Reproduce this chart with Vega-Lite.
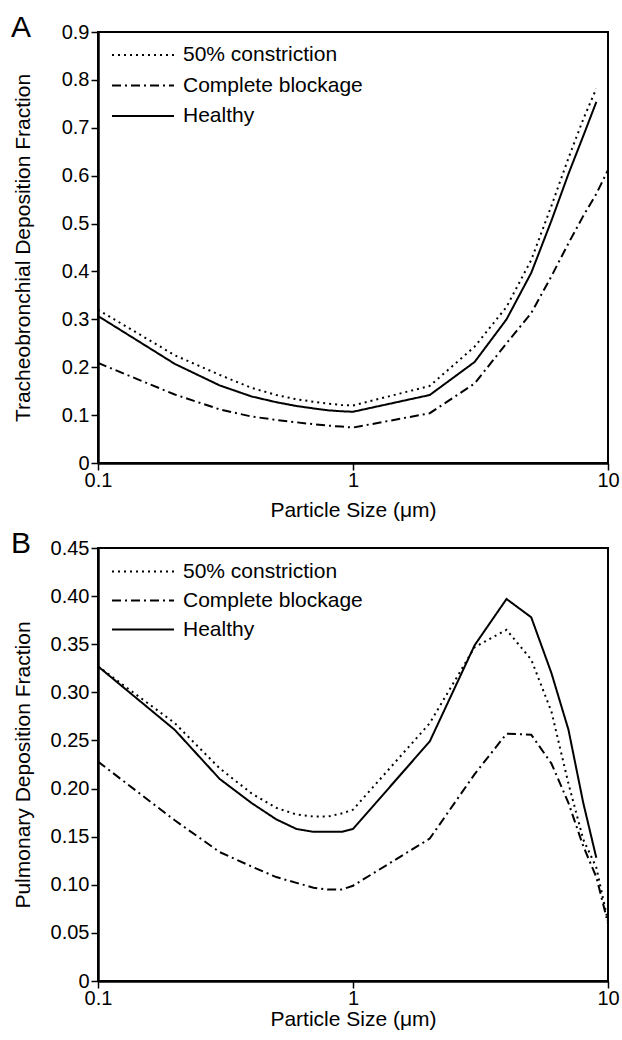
{
  "$schema": "https://vega.github.io/schema/vega-lite/v6.json",
  "background": "white",
  "padding": {"left": 10, "top": 12, "right": 12, "bottom": 2},
  "spacing": 7,
  "config": {
    "font": "Liberation Sans",
    "view": {"stroke": "black", "strokeWidth": 2},
    "axis": {
      "grid": false, "domainColor": "black", "domainWidth": 2.5,
      "tickColor": "black", "tickWidth": 1.5, "tickSize": 7,
      "labelColor": "black", "labelFontSize": 20, "labelFont": "Liberation Sans",
      "titleColor": "black", "titleFontSize": 21, "titleFontWeight": "normal", "titleFont": "Liberation Sans"
    },
    "title": {"fontSize": 30, "fontWeight": "normal", "anchor": "start", "color": "black", "font": "Liberation Sans"}
  },
  "datasets": {
    "tb": [
      {"size": 0.1, "series": "Healthy", "value": 0.307},
      {"size": 0.2, "series": "Healthy", "value": 0.207},
      {"size": 0.3, "series": "Healthy", "value": 0.162},
      {"size": 0.4, "series": "Healthy", "value": 0.139},
      {"size": 0.5, "series": "Healthy", "value": 0.127},
      {"size": 0.6, "series": "Healthy", "value": 0.119},
      {"size": 0.7, "series": "Healthy", "value": 0.114},
      {"size": 0.8, "series": "Healthy", "value": 0.110},
      {"size": 0.9, "series": "Healthy", "value": 0.108},
      {"size": 1, "series": "Healthy", "value": 0.107},
      {"size": 2, "series": "Healthy", "value": 0.142},
      {"size": 3, "series": "Healthy", "value": 0.211},
      {"size": 4, "series": "Healthy", "value": 0.300},
      {"size": 5, "series": "Healthy", "value": 0.397},
      {"size": 6, "series": "Healthy", "value": 0.506},
      {"size": 7, "series": "Healthy", "value": 0.604},
      {"size": 8, "series": "Healthy", "value": 0.683},
      {"size": 9, "series": "Healthy", "value": 0.754},
      {"size": 0.1, "series": "50% constriction", "value": 0.320},
      {"size": 0.2, "series": "50% constriction", "value": 0.225},
      {"size": 0.3, "series": "50% constriction", "value": 0.184},
      {"size": 0.4, "series": "50% constriction", "value": 0.157},
      {"size": 0.5, "series": "50% constriction", "value": 0.142},
      {"size": 0.6, "series": "50% constriction", "value": 0.133},
      {"size": 0.7, "series": "50% constriction", "value": 0.128},
      {"size": 0.8, "series": "50% constriction", "value": 0.124},
      {"size": 0.9, "series": "50% constriction", "value": 0.121},
      {"size": 1, "series": "50% constriction", "value": 0.120},
      {"size": 2, "series": "50% constriction", "value": 0.161},
      {"size": 3, "series": "50% constriction", "value": 0.243},
      {"size": 4, "series": "50% constriction", "value": 0.326},
      {"size": 5, "series": "50% constriction", "value": 0.424},
      {"size": 6, "series": "50% constriction", "value": 0.537},
      {"size": 7, "series": "50% constriction", "value": 0.637},
      {"size": 8, "series": "50% constriction", "value": 0.718},
      {"size": 9, "series": "50% constriction", "value": 0.782},
      {"size": 0.1, "series": "Complete blockage", "value": 0.209},
      {"size": 0.2, "series": "Complete blockage", "value": 0.143},
      {"size": 0.3, "series": "Complete blockage", "value": 0.112},
      {"size": 0.4, "series": "Complete blockage", "value": 0.097},
      {"size": 0.5, "series": "Complete blockage", "value": 0.090},
      {"size": 0.6, "series": "Complete blockage", "value": 0.085},
      {"size": 0.7, "series": "Complete blockage", "value": 0.081},
      {"size": 0.8, "series": "Complete blockage", "value": 0.078},
      {"size": 0.9, "series": "Complete blockage", "value": 0.076},
      {"size": 1, "series": "Complete blockage", "value": 0.074},
      {"size": 2, "series": "Complete blockage", "value": 0.104},
      {"size": 3, "series": "Complete blockage", "value": 0.166},
      {"size": 4, "series": "Complete blockage", "value": 0.250},
      {"size": 5, "series": "Complete blockage", "value": 0.313},
      {"size": 6, "series": "Complete blockage", "value": 0.390},
      {"size": 7, "series": "Complete blockage", "value": 0.459},
      {"size": 8, "series": "Complete blockage", "value": 0.516},
      {"size": 9, "series": "Complete blockage", "value": 0.562},
      {"size": 10, "series": "Complete blockage", "value": 0.612}
    ],
    "pul": [
      {"size": 0.1, "series": "Healthy", "value": 0.327},
      {"size": 0.2, "series": "Healthy", "value": 0.261},
      {"size": 0.3, "series": "Healthy", "value": 0.210},
      {"size": 0.4, "series": "Healthy", "value": 0.185},
      {"size": 0.5, "series": "Healthy", "value": 0.168},
      {"size": 0.6, "series": "Healthy", "value": 0.158},
      {"size": 0.7, "series": "Healthy", "value": 0.155},
      {"size": 0.8, "series": "Healthy", "value": 0.155},
      {"size": 0.9, "series": "Healthy", "value": 0.155},
      {"size": 1, "series": "Healthy", "value": 0.158},
      {"size": 2, "series": "Healthy", "value": 0.249},
      {"size": 3, "series": "Healthy", "value": 0.349},
      {"size": 4, "series": "Healthy", "value": 0.397},
      {"size": 5, "series": "Healthy", "value": 0.378},
      {"size": 6, "series": "Healthy", "value": 0.320},
      {"size": 7, "series": "Healthy", "value": 0.261},
      {"size": 8, "series": "Healthy", "value": 0.185},
      {"size": 9, "series": "Healthy", "value": 0.128},
      {"size": 0.1, "series": "50% constriction", "value": 0.327},
      {"size": 0.2, "series": "50% constriction", "value": 0.268},
      {"size": 0.3, "series": "50% constriction", "value": 0.221},
      {"size": 0.4, "series": "50% constriction", "value": 0.195},
      {"size": 0.5, "series": "50% constriction", "value": 0.180},
      {"size": 0.6, "series": "50% constriction", "value": 0.173},
      {"size": 0.7, "series": "50% constriction", "value": 0.171},
      {"size": 0.8, "series": "50% constriction", "value": 0.171},
      {"size": 0.9, "series": "50% constriction", "value": 0.174},
      {"size": 1, "series": "50% constriction", "value": 0.178},
      {"size": 2, "series": "50% constriction", "value": 0.268},
      {"size": 3, "series": "50% constriction", "value": 0.347},
      {"size": 4, "series": "50% constriction", "value": 0.365},
      {"size": 5, "series": "50% constriction", "value": 0.334},
      {"size": 6, "series": "50% constriction", "value": 0.280},
      {"size": 7, "series": "50% constriction", "value": 0.205},
      {"size": 8, "series": "50% constriction", "value": 0.147},
      {"size": 9, "series": "50% constriction", "value": 0.118},
      {"size": 10, "series": "50% constriction", "value": 0.062},
      {"size": 0.1, "series": "Complete blockage", "value": 0.228},
      {"size": 0.2, "series": "Complete blockage", "value": 0.167},
      {"size": 0.3, "series": "Complete blockage", "value": 0.134},
      {"size": 0.4, "series": "Complete blockage", "value": 0.119},
      {"size": 0.5, "series": "Complete blockage", "value": 0.108},
      {"size": 0.6, "series": "Complete blockage", "value": 0.102},
      {"size": 0.7, "series": "Complete blockage", "value": 0.097},
      {"size": 0.8, "series": "Complete blockage", "value": 0.095},
      {"size": 0.9, "series": "Complete blockage", "value": 0.095},
      {"size": 1, "series": "Complete blockage", "value": 0.099},
      {"size": 2, "series": "Complete blockage", "value": 0.148},
      {"size": 3, "series": "Complete blockage", "value": 0.215},
      {"size": 4, "series": "Complete blockage", "value": 0.257},
      {"size": 5, "series": "Complete blockage", "value": 0.256},
      {"size": 6, "series": "Complete blockage", "value": 0.226},
      {"size": 7, "series": "Complete blockage", "value": 0.185},
      {"size": 8, "series": "Complete blockage", "value": 0.140},
      {"size": 9, "series": "Complete blockage", "value": 0.108},
      {"size": 10, "series": "Complete blockage", "value": 0.060}
    ]
  },
  "vconcat": [
    {
      "title": {"text": "A", "dx": -87, "dy": 7, "offset": -38, "baseline": "alphabetic", "frame": "group"},
      "width": 510,
      "height": 431,
      "data": {"name": "tb"},
      "mark": {"type": "line", "color": "black", "strokeWidth": 2},
      "encoding": {
        "x": {"field": "size", "type": "quantitative",
          "scale": {"type": "log", "domain": [0.1, 10], "nice": false},
          "axis": {"values": [0.1, 1, 10], "format": "~g", "labelFlush": false, "labelPadding": 0, "title": "Particle Size (μm)", "titlePadding": 9}},
        "y": {"field": "value", "type": "quantitative",
          "scale": {"domain": [0, 0.9], "nice": false, "zero": false},
          "axis": {"values": [0, 0.1, 0.2, 0.3, 0.4, 0.5, 0.6, 0.7, 0.8, 0.9],
            "labelExpr": "datum.value == 0 ? '0' : format(datum.value, '.1f')",
            "labelPadding": 2,
            "title": "Tracheobronchial Deposition Fraction", "titleX": -69, "titleBaseline": "alphabetic"}},
        "strokeDash": {"field": "series", "type": "nominal",
          "scale": {"domain": ["50% constriction", "Complete blockage", "Healthy"], "range": [[2, 4], [9, 4, 2, 4], [1, 0]]},
          "legend": {"orient": "none", "legendX": 13, "legendY": 8, "title": null,
            "symbolType": "stroke", "symbolSize": 3844, "symbolStrokeWidth": 2, "symbolStrokeColor": "black",
            "clipHeight": 30, "rowPadding": 0.5,
            "labelFontSize": 21, "labelColor": "black", "labelFont": "Liberation Sans", "labelOffset": 8, "labelLimit": 0}}
      }
    },
    {
      "title": {"text": "B", "dx": -87, "dy": 7, "offset": -38, "baseline": "alphabetic", "frame": "group"},
      "width": 510,
      "height": 433,
      "data": {"name": "pul"},
      "mark": {"type": "line", "color": "black", "strokeWidth": 2},
      "encoding": {
        "x": {"field": "size", "type": "quantitative",
          "scale": {"type": "log", "domain": [0.1, 10], "nice": false},
          "axis": {"values": [0.1, 1, 10], "format": "~g", "labelFlush": false, "labelPadding": 0, "title": "Particle Size (μm)", "titlePadding": 0}},
        "y": {"field": "value", "type": "quantitative",
          "scale": {"domain": [0, 0.45], "nice": false, "zero": false},
          "axis": {"values": [0, 0.05, 0.1, 0.15, 0.2, 0.25, 0.3, 0.35, 0.4, 0.45],
            "labelExpr": "datum.value == 0 ? '0' : format(datum.value, '.2f')",
            "labelPadding": 2,
            "title": "Pulmonary Deposition Fraction", "titleX": -69, "titleBaseline": "alphabetic"}},
        "strokeDash": {"field": "series", "type": "nominal",
          "scale": {"domain": ["50% constriction", "Complete blockage", "Healthy"], "range": [[2, 4], [9, 4, 2, 4], [1, 0]]},
          "legend": {"orient": "none", "legendX": 13, "legendY": 9, "title": null,
            "symbolType": "stroke", "symbolSize": 3844, "symbolStrokeWidth": 2, "symbolStrokeColor": "black",
            "clipHeight": 29, "rowPadding": 0,
            "labelFontSize": 21, "labelColor": "black", "labelFont": "Liberation Sans", "labelOffset": 8, "labelLimit": 0}}
      }
    }
  ],
  "resolve": {"scale": {"strokeDash": "independent"}, "legend": {"strokeDash": "independent"}}
}
